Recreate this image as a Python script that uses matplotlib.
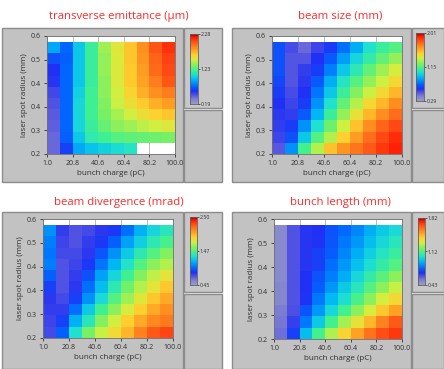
import numpy as np
import matplotlib
matplotlib.use('Agg')
import matplotlib.pyplot as plt
from matplotlib.colors import LinearSegmentedColormap
from matplotlib.patches import Rectangle

plt.rcParams['font.family'] = ['Open Sans', 'DejaVu Sans']

W, H = 444, 369

charge_ticks = [1.0, 20.8, 40.6, 60.4, 80.2, 100.0]
radius_ticks = [0.2, 0.28, 0.36, 0.44, 0.52, 0.6]
radius_labels = ['0.2', '0.3', '0.4', '0.4', '0.5', '0.6']
charge_edges = np.linspace(1.0, 100.0, 11)
radius_edges = np.linspace(0.2, 0.58, 11)

titles = ['transverse emittance (\u00b5m)', 'beam size (mm)',
          'beam divergence (mrad)', 'bunch length (mm)']
ranges = [(0.19, 2.28), (0.29, 2.01), (0.45, 2.50), (0.43, 1.82)]
mid_labels = ['1.23', '1.15', '1.47', '1.12']

# rows listed from top (large radius) to bottom (small radius)
emittance = [
    [0.88, 0.71, 0.98, 1.17, 1.40, 1.55, 1.69, 1.86, 2.03, 2.13],
    [0.65, 0.69, 0.98, 1.17, 1.38, 1.53, 1.69, 1.84, 1.99, 2.09],
    [0.57, 0.71, 0.98, 1.17, 1.38, 1.53, 1.67, 1.82, 1.97, 2.07],
    [0.55, 0.71, 0.98, 1.17, 1.36, 1.53, 1.67, 1.80, 1.92, 2.03],
    [0.50, 0.71, 1.01, 1.19, 1.36, 1.51, 1.63, 1.76, 1.86, 1.92],
    [0.46, 0.71, 1.03, 1.19, 1.34, 1.49, 1.59, 1.67, 1.76, 1.82],
    [0.44, 0.71, 1.03, 1.19, 1.32, 1.42, 1.51, 1.59, 1.65, 1.69],
    [0.42, 0.71, 1.03, 1.17, 1.28, 1.36, 1.40, 1.46, 1.51, 1.55],
    [0.40, 0.69, 0.98, 1.13, 1.19, 1.24, 1.26, 1.28, 1.30, 1.32],
    [0.40, 0.61, 0.88, 0.96, 1.01, 1.05, 1.09, np.nan, np.nan, np.nan],
]
beam_size = [
    [0.67, 0.53, 0.46, 0.55, 0.62, 0.74, 0.87, 1.01, 1.10, 1.15],
    [0.67, 0.51, 0.51, 0.60, 0.69, 0.84, 0.98, 1.08, 1.18, 1.27],
    [0.67, 0.51, 0.57, 0.63, 0.77, 0.94, 1.06, 1.18, 1.29, 1.39],
    [0.65, 0.51, 0.58, 0.69, 0.87, 1.03, 1.15, 1.27, 1.37, 1.46],
    [0.63, 0.53, 0.60, 0.75, 0.94, 1.10, 1.24, 1.36, 1.46, 1.56],
    [0.60, 0.55, 0.63, 0.81, 1.01, 1.18, 1.32, 1.46, 1.56, 1.67],
    [0.58, 0.57, 0.69, 0.89, 1.10, 1.27, 1.43, 1.56, 1.67, 1.75],
    [0.57, 0.63, 0.81, 1.01, 1.20, 1.37, 1.53, 1.67, 1.77, 1.84],
    [0.55, 0.67, 0.94, 1.15, 1.32, 1.49, 1.63, 1.75, 1.84, 1.89],
    [0.50, 0.81, 1.12, 1.32, 1.53, 1.65, 1.73, 1.80, 1.87, 1.91],
]
divergence = [
    [1.07, 0.78, 0.72, 0.74, 0.80, 0.84, 0.98, 1.15, 1.27, 1.35],
    [1.02, 0.76, 0.72, 0.78, 0.84, 0.94, 1.11, 1.25, 1.37, 1.45],
    [1.00, 0.74, 0.74, 0.80, 0.92, 1.07, 1.23, 1.37, 1.48, 1.58],
    [1.02, 0.72, 0.76, 0.84, 1.00, 1.17, 1.33, 1.48, 1.60, 1.68],
    [0.94, 0.72, 0.78, 0.90, 1.11, 1.27, 1.43, 1.58, 1.70, 1.80],
    [0.86, 0.72, 0.80, 0.98, 1.19, 1.37, 1.54, 1.68, 1.80, 1.91],
    [0.80, 0.74, 0.86, 1.07, 1.29, 1.48, 1.64, 1.78, 1.91, 2.01],
    [0.78, 0.78, 0.98, 1.23, 1.43, 1.60, 1.76, 1.89, 2.01, 2.09],
    [0.76, 0.86, 1.15, 1.35, 1.58, 1.74, 1.89, 2.01, 2.11, 2.15],
    [0.74, 0.94, 1.31, 1.56, 1.72, 1.84, 1.97, 2.13, 2.25, 2.30],
]
bunch_length = [
    [0.50, 0.61, 0.67, 0.68, 0.74, 0.78, 0.83, 0.90, 0.96, 1.00],
    [0.50, 0.61, 0.67, 0.69, 0.75, 0.81, 0.86, 0.93, 0.99, 1.04],
    [0.50, 0.61, 0.67, 0.71, 0.76, 0.83, 0.90, 0.97, 1.03, 1.08],
    [0.50, 0.61, 0.67, 0.71, 0.79, 0.86, 0.94, 1.01, 1.07, 1.13],
    [0.50, 0.61, 0.68, 0.74, 0.82, 0.90, 0.99, 1.07, 1.14, 1.21],
    [0.51, 0.61, 0.68, 0.76, 0.86, 0.96, 1.04, 1.13, 1.21, 1.29],
    [0.51, 0.61, 0.69, 0.81, 0.92, 1.01, 1.11, 1.21, 1.31, 1.38],
    [0.53, 0.62, 0.74, 0.86, 0.99, 1.10, 1.21, 1.32, 1.42, 1.50],
    [0.54, 0.65, 0.81, 0.96, 1.10, 1.24, 1.35, 1.46, 1.57, 1.65],
    [0.56, 0.71, 0.93, 1.10, 1.26, 1.39, 1.50, 1.60, 1.67, 1.71],
]
grids = [emittance, beam_size, divergence, bunch_length]

cmap = LinearSegmentedColormap.from_list('labview', [
    (0.0, '#9c9cc8'), (0.06, '#8484d0'), (0.12, '#5858e0'), (0.18, '#2030f4'),
    (0.25, '#0068ff'), (0.35, '#00b8f4'), (0.42, '#20e0d0'), (0.48, '#40f090'),
    (0.55, '#80f060'), (0.63, '#d0f040'), (0.70, '#ffd030'), (0.80, '#ff9020'),
    (0.90, '#ff4a14'), (0.96, '#ff1400'), (1.0, '#900000')])

# pixel layout per panel: frame, heatmap, colorbar box, colorbar, title centre
panels = [
    dict(frame=(2, 28, 183, 182), heat=(47, 36, 175, 154), box=(184, 28, 222, 108),
         cbar=(190, 34, 198, 104), title=(119, 16)),
    dict(frame=(232, 28, 411, 182), heat=(272, 36, 402, 154), box=(412, 28, 444, 108),
         cbar=(416, 33, 424, 101), title=(340, 16)),
    dict(frame=(2, 212, 183, 369), heat=(43, 219, 173, 338), box=(184, 212, 222, 292),
         cbar=(190, 217, 197, 285), title=(119, 203)),
    dict(frame=(232, 212, 411, 369), heat=(274, 219, 402, 339), box=(412, 212, 444, 292),
         cbar=(418, 218, 425, 285), title=(340, 203)),
]


def px_axes(fig, box):
    x0, y0, x1, y1 = box
    return fig.add_axes([x0 / W, 1 - y1 / H, (x1 - x0) / W, (y1 - y0) / H])


def px_rect(fig, box, fc, ec):
    x0, y0, x1, y1 = box
    fig.patches.append(Rectangle((x0 / W, 1 - y1 / H), (x1 - x0) / W, (y1 - y0) / H,
                                 transform=fig.transFigure, facecolor=fc,
                                 edgecolor=ec, linewidth=1.0, zorder=-5))


def main():
    fig = plt.figure(figsize=(W / 100, H / 100), dpi=100)
    fig.patch.set_facecolor('white')

    for p, title, grid, (vmin, vmax), mid in zip(panels, titles, grids, ranges, mid_labels):
        px_rect(fig, p['frame'], '#c2c2c2', '#8c8c8c')
        px_rect(fig, p['box'], '#c8c8c8', '#8c8c8c')
        bx0, by0, bx1, by1 = p['box']
        fx0, fy0, fx1, fy1 = p['frame']
        px_rect(fig, (bx0, by1 + 2, bx1, fy1), '#c2c2c2', '#8c8c8c')

        fig.text(p['title'][0] / W, 1 - p['title'][1] / H, title, color='#ff2a2a',
                 fontsize=8.2, ha='center', va='center')

        ax = px_axes(fig, p['heat'])
        ax.set_facecolor('white')
        data = np.array(grid)[::-1]
        ax.pcolormesh(charge_edges, radius_edges, np.ma.masked_invalid(data),
                      cmap=cmap, vmin=vmin, vmax=vmax, zorder=2)
        ax.set_xlim(1.0, 100.0)
        ax.set_ylim(0.2, 0.6)
        ax.set_xticks(charge_ticks)
        ax.set_xticklabels(['%.1f' % c for c in charge_ticks])
        ax.set_yticks(radius_ticks)
        ax.set_yticklabels(radius_labels)
        ax.grid(True, color='#b0b0b0', linewidth=0.6, zorder=1)
        ax.set_axisbelow(True)
        ax.tick_params(labelsize=5, length=2.5, width=0.6, pad=2, colors='#303030')
        for s in ax.spines.values():
            s.set_color('#707070')
            s.set_linewidth(0.6)
        ax.set_xlabel('bunch charge (pC)', fontsize=5.8, labelpad=2, color='#303030')
        ax.set_ylabel('laser spot radius (mm)', fontsize=5.8, labelpad=2, color='#303030')

        cax = px_axes(fig, p['cbar'])
        grad = np.linspace(vmin, vmax, 256).reshape(-1, 1)
        cax.imshow(grad, cmap=cmap, vmin=vmin, vmax=vmax, aspect='auto',
                   origin='lower', extent=(0, 1, vmin, vmax))
        cax.set_xticks([])
        cax.yaxis.tick_right()
        cax.set_yticks([vmin, (vmin + vmax) / 2, vmax])
        cax.set_yticklabels(['%.2f' % vmin, mid, '%.2f' % vmax])
        cax.tick_params(labelsize=3.8, length=1.5, width=0.5, pad=0.5, colors='#303030')
        for s in cax.spines.values():
            s.set_color('#606060')
            s.set_linewidth(0.6)

    fig.savefig('out.png', dpi=100)


if __name__ == '__main__':
    main()
